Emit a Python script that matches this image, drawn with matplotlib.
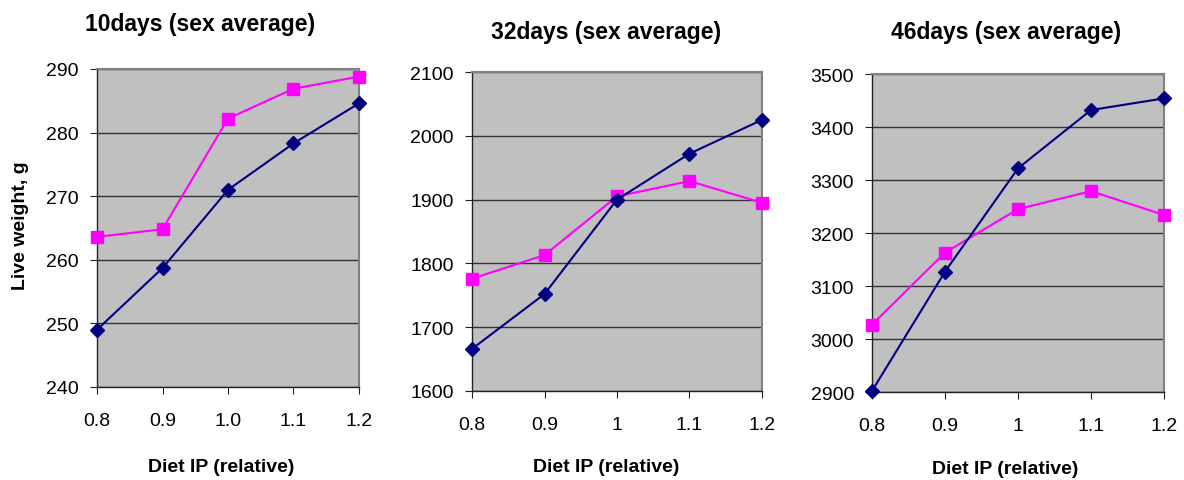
import matplotlib.pyplot as plt

plt.rcParams['font.family'] = ['Liberation Sans', 'DejaVu Sans']

x_pos = [0, 1, 2, 3, 4]
ticks_10 = ["0.8", "0.9", "1.0", "1.1", "1.2"]
ticks_other = ["0.8", "0.9", "1", "1.1", "1.2"]

d10_blue = [249.0, 258.7, 271.0, 278.3, 284.6]
d10_pink = [263.6, 264.8, 282.2, 286.9, 288.8]
d32_blue = [1666, 1752, 1900, 1972, 2025]
d32_pink = [1776, 1813, 1905, 1929, 1895]
d46_blue = [2902, 3127, 3322, 3432, 3454]
d46_pink = [3027, 3163, 3245, 3279, 3234]

titles = ["10days (sex average)", "32days (sex average)", "46days (sex average)"]
ylims = [(240, 290), (1600, 2100), (2900, 3500)]
ysteps = [10, 100, 100]

W, H = 1184, 481
fig = plt.figure(figsize=(W / 100, H / 100), dpi=100)

# axes boxes in pixels: left, top, right, bottom
boxes = [(97, 70, 359, 388), (472, 73, 762, 392), (872, 75, 1164, 393)]
title_pos = [(200, 24), (606, 33), (1006, 33)]
xlabel_pos = [(221, 468), (606, 468), (1005, 470)]

data = [(d10_blue, d10_pink, ticks_10), (d32_blue, d32_pink, ticks_other), (d46_blue, d46_pink, ticks_other)]

for i, (blue, pink, tlabels) in enumerate(data):
    l, t, r, b = boxes[i]
    ax = fig.add_axes([l / W, 1 - b / H, (r - l) / W, (b - t) / H])
    ax.set_facecolor('#C0C0C0')
    lo, hi = ylims[i]
    ax.set_ylim(lo, hi)
    ax.set_xlim(0, 4)
    ax.set_yticks(range(lo, hi + 1, ysteps[i]))
    ax.set_xticks(x_pos)
    ax.set_xticklabels(tlabels)
    ax.yaxis.grid(True, color='#333333', linewidth=1.0)
    ax.set_axisbelow(True)
    ax.plot(x_pos, pink, color='#FF00FF', marker='s', markersize=8, linewidth=1.5, clip_on=False, zorder=3)
    ax.plot(x_pos, blue, color='#000080', marker='D', markersize=7, linewidth=1.5, clip_on=False, zorder=4)
    for s in ['top', 'right']:
        ax.spines[s].set_color('#808080')
        ax.spines[s].set_linewidth(1.5)
    for s in ['left', 'bottom']:
        ax.spines[s].set_color('#222222')
        ax.spines[s].set_linewidth(1.0)
    ax.tick_params(axis='x', direction='out', length=5, pad=13, labelsize=14, color='#222222')
    ax.tick_params(axis='y', direction='out', length=5, pad=8, labelsize=14, color='#222222')
    tx, ty = title_pos[i]
    fig.text(tx / W, 1 - ty / H, titles[i], ha='center', va='center', fontsize=16.5, fontweight='bold')
    lx, ly = xlabel_pos[i]
    fig.text(lx / W, 1 - ly / H, "Diet IP (relative)", ha='center', va='center', fontsize=14, fontweight='bold')

fig.text(21 / W, 1 - 226 / H, "Live weight, g", ha='center', va='center', rotation=90, fontsize=14, fontweight='bold')

fig.savefig('out.png', dpi=100)
